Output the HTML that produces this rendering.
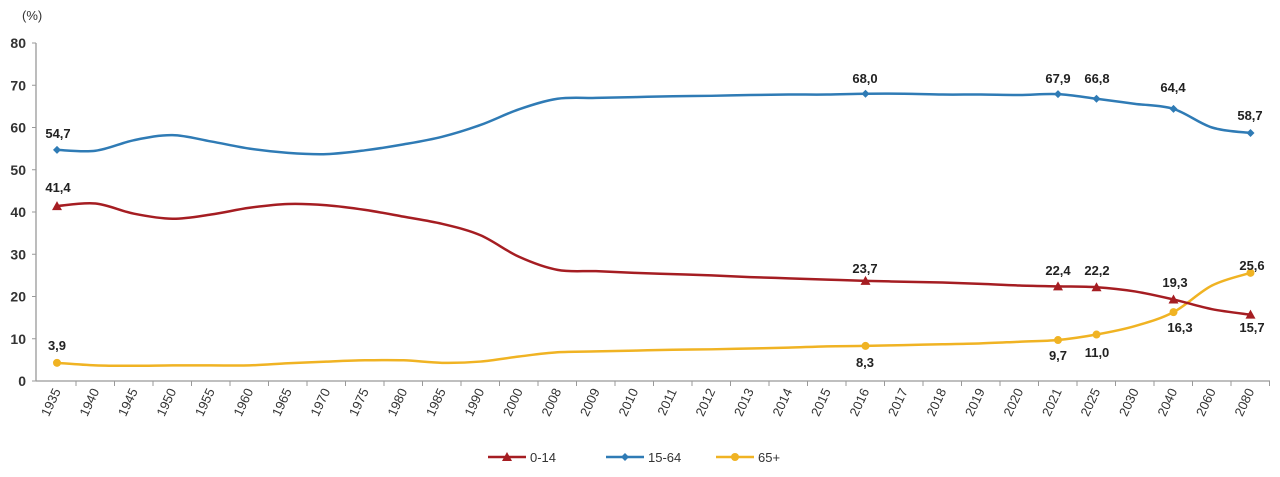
<!DOCTYPE html>
<html><head><meta charset="utf-8"><style>
body{margin:0;background:#fff;width:1280px;height:472px;overflow:hidden;font-family:"Liberation Sans",sans-serif}
</style></head><body>
<svg id="c" width="1280" height="472" xmlns="http://www.w3.org/2000/svg" font-family="Liberation Sans, sans-serif"></svg>
<script>
const svg=document.getElementById('c');
const years=[1935,1940,1945,1950,1955,1960,1965,1970,1975,1980,1985,1990,2000,2008,2009,2010,2011,2012,2013,2014,2015,2016,2017,2018,2019,2020,2021,2025,2030,2040,2060,2080];
const blue=[54.7,54.5,57.0,58.2,56.7,55.0,54.0,53.7,54.6,56.0,57.8,60.6,64.3,66.8,67.0,67.2,67.4,67.5,67.7,67.8,67.8,68.0,68.0,67.8,67.8,67.7,67.9,66.8,65.6,64.4,60.0,58.7];
const red=[41.4,42.0,39.6,38.4,39.4,41.0,41.9,41.6,40.5,38.9,37.2,34.5,29.4,26.3,26.0,25.6,25.3,25.0,24.6,24.3,24.0,23.7,23.5,23.3,23.0,22.6,22.4,22.2,21.2,19.3,17.0,15.7];
const yel=[4.3,3.7,3.6,3.7,3.7,3.7,4.2,4.6,4.9,4.9,4.3,4.6,5.8,6.8,7.0,7.2,7.4,7.5,7.7,7.9,8.2,8.3,8.5,8.7,8.9,9.3,9.7,11.0,13.0,16.3,22.6,25.6];
const X=i=>57+i*38.5, Y=v=>381-v*4.225;
let h='';
h+=`<text x="22" y="20" font-size="13" fill="#333">(%)</text>`;
h+=`<line x1="36" y1="43" x2="36" y2="381" stroke="#999" stroke-width="1.3"/>`;
h+=`<line x1="36" y1="381" x2="1270" y2="381" stroke="#999" stroke-width="1.3"/>`;
for(let v=0;v<=80;v+=10){const y=Y(v);h+=`<line x1="32" y1="${y}" x2="36" y2="${y}" stroke="#999"/><text x="26" y="${y+5}" font-size="14" text-anchor="end" fill="#333" font-weight="bold">${v}</text>`;}
years.forEach((yr,i)=>{const x=X(i);h+=`<line x1="${x+19}" y1="381" x2="${x+19}" y2="386" stroke="#999"/><text transform="translate(${x+4},${391}) rotate(-65)" font-size="13" text-anchor="end" fill="#333">${yr}</text>`;});
function path(d){let p=`M${X(0)},${Y(d[0])}`;for(let i=0;i<d.length-1;i++){const p0=[X(Math.max(i-1,0)),Y(d[Math.max(i-1,0)])],p1=[X(i),Y(d[i])],p2=[X(i+1),Y(d[i+1])],p3=[X(Math.min(i+2,d.length-1)),Y(d[Math.min(i+2,d.length-1)])];const c1=[p1[0]+(p2[0]-p0[0])/6,p1[1]+(p2[1]-p0[1])/6],c2=[p2[0]-(p3[0]-p1[0])/6,p2[1]-(p3[1]-p1[1])/6];p+=`C${c1} ${c2} ${p2}`;}return p;}
const mk=[0,21,26,27,29,31];
function series(d,col,type){h+=`<path d="${path(d)}" fill="none" stroke="${col}" stroke-width="2.5"/>`;mk.forEach(i=>{const x=X(i),y=Y(d[i]);if(type=='t')h+=`<polygon points="${x},${y-5} ${x-5},${y+4} ${x+5},${y+4}" fill="${col}"/>`;else if(type=='d')h+=`<polygon points="${x},${y-4} ${x+4},${y} ${x},${y+4} ${x-4},${y}" fill="${col}"/>`;else h+=`<circle cx="${x}" cy="${y}" r="4" fill="${col}"/>`;});}
series(yel,'#f0b323','c');series(red,'#a51d22','t');series(blue,'#2f7bb5','d');
const L=[[58,133,'54,7'],[58,187,'41,4'],[57,345,'3,9'],[865,78,'68,0'],[865,268,'23,7'],[865,362,'8,3'],[1058,78,'67,9'],[1058,270,'22,4'],[1058,355,'9,7'],[1097,78,'66,8'],[1097,270,'22,2'],[1097,352,'11,0'],[1173,87,'64,4'],[1175,282,'19,3'],[1180,327,'16,3'],[1250,115,'58,7'],[1252,327,'15,7'],[1252,265,'25,6']];
L.forEach(l=>h+=`<text x="${l[0]}" y="${l[1]+5}" font-size="13" font-weight="bold" text-anchor="middle" fill="#222">${l[2]}</text>`);
function leg(x,col,type,t){h+=`<line x1="${x}" y1="457" x2="${x+38}" y2="457" stroke="${col}" stroke-width="2.5"/>`;const c=x+19;if(type=='t')h+=`<polygon points="${c},452 ${c-5},461 ${c+5},461" fill="${col}"/>`;else if(type=='d')h+=`<polygon points="${c},453 ${c+4},457 ${c},461 ${c-4},457" fill="${col}"/>`;else h+=`<circle cx="${c}" cy="457" r="4" fill="${col}"/>`;h+=`<text x="${x+42}" y="462" font-size="13" fill="#333">${t}</text>`;}
leg(488,'#a51d22','t','0-14');leg(606,'#2f7bb5','d','15-64');leg(716,'#f0b323','c','65+');
svg.innerHTML=h;
</script>
</body></html>
